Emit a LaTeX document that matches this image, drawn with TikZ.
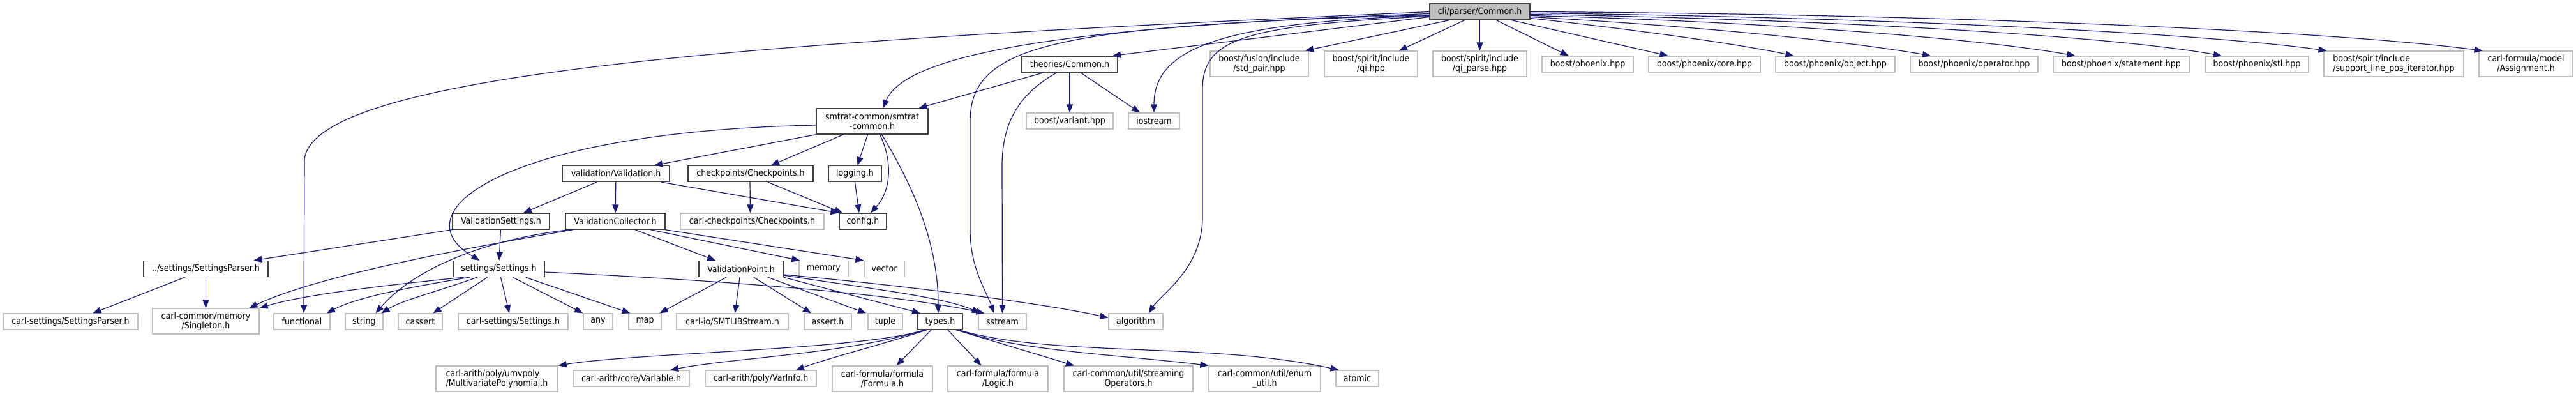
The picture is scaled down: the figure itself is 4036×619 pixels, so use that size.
\documentclass[tikz,border=0pt]{standalone}
\usepackage{fontspec}
\setmainfont{DejaVu Sans}[FakeStretch=0.9]
\usetikzlibrary{arrows.meta}
\definecolor{edgec}{HTML}{191970}
\definecolor{extc}{HTML}{BFBFBF}
\definecolor{rootc}{HTML}{BFBFBF}
\definecolor{docc}{HTML}{404040}
\begin{document}
\begin{tikzpicture}[x=1pt,y=-1pt,
  nd/.style={draw=docc, line width=1.3pt, inner sep=0pt, minimum height=25pt, align=center, font=\fontsize{14}{15}\selectfont, text=black},
  ex/.style={nd, draw=extc},
  rt/.style={nd, fill=rootc},
  two/.style={minimum height=40pt},
  conn/.style={draw=edgec, line width=1.2pt, -{Triangle[length=13pt,width=10pt]}},
]
\fill[white] (0,0) rectangle (4036,619);
\useasboundingbox (0,0) rectangle (4036,619);

% row 0
\node[rt, minimum width=157pt] (root) at (2318.5,18.5) {cli/parser/Common.h};
% row 1
\node[nd, minimum width=150pt] (theories) at (1676,100.5) {theories/Common.h};
\node[ex, two, minimum width=154pt] (stdpair) at (1973,100) {boost/fusion/include\\/std\_pair.hpp};
\node[ex, two, minimum width=146pt] (qi) at (2148,100) {boost/spirit/include\\/qi.hpp};
\node[ex, two, minimum width=147pt] (qiparse) at (2318.5,100) {boost/spirit/include\\/qi\_parse.hpp};
\node[ex, minimum width=143pt] (phx) at (2487.5,100.5) {boost/phoenix.hpp};
\node[ex, minimum width=175pt] (phxcore) at (2670.5,100.5) {boost/phoenix/core.hpp};
\node[ex, minimum width=187pt] (phxobj) at (2875.5,100.5) {boost/phoenix/object.hpp};
\node[ex, minimum width=200pt] (phxop) at (3093,100.5) {boost/phoenix/operator.hpp};
\node[ex, minimum width=213pt] (phxstmt) at (3323.5,100.5) {boost/phoenix/statement.hpp};
\node[ex, minimum width=162pt] (phxstl) at (3536,100.5) {boost/phoenix/stl.hpp};
\node[ex, two, minimum width=219pt, align=left] (linepos) at (3750.5,100) {boost/spirit/include\\/support\_line\_pos\_iterator.hpp};
\node[ex, two, minimum width=147pt] (assign) at (3957.5,100) {carl-formula/model\\/Assignment.h};
% row 2
\node[nd, two, minimum width=175pt] (smtrat) at (1366.5,190) {smtrat-common/smtrat\\-common.h};
\node[ex, minimum width=136pt] (variant) at (1676,189.5) {boost/variant.hpp};
\node[ex, minimum width=80pt] (iostream) at (1808,189.5) {iostream};
% row 3
\node[nd, minimum width=168pt] (validation) at (965,272) {validation/Validation.h};
\node[nd, minimum width=196pt] (checkpoints) at (1176,272) {checkpoints/Checkpoints.h};
\node[nd, minimum width=83pt] (logging) at (1339.5,272) {logging.h};
% row 4
\node[nd, minimum width=152pt] (vsettings) at (785,346.5) {ValidationSettings.h};
\node[nd, minimum width=156pt] (vcollector) at (964,346.5) {ValidationCollector.h};
\node[ex, minimum width=225pt] (carlckpt) at (1178.5,346.5) {carl-checkpoints/Checkpoints.h};
\node[nd, minimum width=74pt] (config) at (1352,346.5) {config.h};
% row 5
\node[nd, minimum width=195pt] (sparser) at (322.5,421) {../settings/SettingsParser.h};
\node[nd, minimum width=143pt] (settings) at (781.5,421) {settings/Settings.h};
\node[nd, minimum width=132pt] (vpoint) at (1161,421) {ValidationPoint.h};
\node[ex, minimum width=77pt] (memory) at (1290.5,421) {memory};
\node[ex, minimum width=63pt] (vector) at (1385.5,421) {vector};
% row 6
\node[ex, minimum width=211pt] (csparser) at (110.5,503.5) {carl-settings/SettingsParser.h};
\node[ex, two, minimum width=167pt] (singleton) at (322.5,503) {carl-common/memory\\/Singleton.h};
\node[ex, minimum width=88pt] (functional) at (473,503.5) {functional};
\node[ex, minimum width=59pt] (string) at (570.5,503.5) {string};
\node[ex, minimum width=69pt] (cassert) at (658.5,503.5) {cassert};
\node[ex, minimum width=172pt] (csettings) at (804,503.5) {carl-settings/Settings.h};
\node[ex, minimum width=46pt] (any) at (937,503.5) {any};
\node[ex, minimum width=51pt] (map) at (1010.5,503.5) {map};
\node[ex, minimum width=175pt] (smtlib) at (1147.5,503.5) {carl-io/SMTLIBStream.h};
\node[ex, minimum width=74pt] (asserth) at (1297,503.5) {assert.h};
\node[ex, minimum width=54pt] (tuple) at (1387,503.5) {tuple};
\node[nd, minimum width=70pt] (types) at (1473,503.5) {types.h};
\node[ex, minimum width=75pt] (sstream) at (1570.5,503.5) {sstream};
\node[ex, minimum width=85pt] (algorithm) at (1779.5,503.5) {algorithm};
% row 7
\node[ex, two, minimum width=191pt, align=left] (mvpoly) at (778.5,593) {carl-arith/poly/umvpoly\\/MultivariatePolynomial.h};
\node[ex, minimum width=182pt] (variable) at (989,592.5) {carl-arith/core/Variable.h};
\node[ex, minimum width=174pt] (varinfo) at (1192,592.5) {carl-arith/poly/VarInfo.h};
\node[ex, two, minimum width=157pt] (formula) at (1382.5,593) {carl-formula/formula\\/Formula.h};
\node[ex, two, minimum width=157pt] (logic) at (1563.5,593) {carl-formula/formula\\/Logic.h};
\node[ex, two, minimum width=202pt] (streaming) at (1768,593) {carl-common/util/streaming\\Operators.h};
\node[ex, two, minimum width=175pt] (enumutil) at (1981.5,593) {carl-common/util/enum\\\_util.h};
\node[ex, minimum width=67pt] (atomic) at (2126.5,592.5) {atomic};

% root, right side
\draw[conn] ([xshift=-48pt]root.south) -- ([xshift=72pt]stdpair.north);
\draw[conn] ([xshift=-24pt]root.south) -- ([xshift=44pt]qi.north);
\draw[conn] (root) -- (qiparse);
\draw[conn] ([xshift=26pt]root.south) -- ([xshift=-30pt]phx.north);
\draw[conn] ([xshift=50pt]root.south) -- ([xshift=-57pt]phxcore.north);
\draw[conn] ([yshift=-10pt]root.east) .. controls (2550,45) and (2720,68) .. ([xshift=-65pt]phxobj.north);
\draw[conn] ([yshift=-8pt]root.east) .. controls (2650,40) and (2900,65) .. ([xshift=-68pt]phxop.north);
\draw[conn] ([yshift=-6pt]root.east) .. controls (2750,33) and (3100,60) .. ([xshift=-72pt]phxstmt.north);
\draw[conn] ([yshift=-4pt]root.east) .. controls (2850,30) and (3300,55) .. ([xshift=-55pt]phxstl.north);
\draw[conn] ([yshift=-2pt]root.east) .. controls (2950,27) and (3450,52) .. ([xshift=-105pt]linepos.north);
\draw[conn] (root.east) .. controls (3050,22) and (3650,48) .. ([xshift=-68pt]assign.north);
% root, left side
\draw[conn] ([yshift=-8pt]root.west) -- ([xshift=67pt]theories.north);
\draw[conn] (root.west) .. controls (1300,60) and (490,105) .. (477,250) -- ([xshift=3pt]functional.north);
\draw[conn] ([yshift=-3pt]root.west) .. controls (1700,40) and (1420,80) .. ([xshift=17pt]smtrat.north);
\draw[conn] ([yshift=-5pt]root.west) .. controls (1650,40) and (1520,70) .. (1520,190) -- (1520,360) .. controls (1520,420) and (1545,455) .. ([xshift=-13pt]sstream.north);
\draw[conn] ([yshift=-6pt]root.west) .. controls (1900,35) and (1808,80) .. (iostream.north);
\draw[conn] ([yshift=-7pt]root.west) .. controls (1950,40) and (1884,60) .. (1884,140) -- (1884,340) .. controls (1884,420) and (1820,460) .. ([xshift=20pt]algorithm.north);
% theories
\draw[conn] ([xshift=-41pt]theories.south) -- ([xshift=73pt]smtrat.north);
\draw[conn] (theories) -- (variant);
\draw[conn] ([xshift=17pt]theories.south) -- ([xshift=-22pt]iostream.north);
\draw[conn] ([xshift=-20pt]theories.south) .. controls (1590,150) and (1570,200) .. (1570,260) -- (sstream.north);
% smtrat
\draw[conn] (smtrat.south west) -- ([xshift=60pt]validation.north);
\draw[conn] ([xshift=-45pt]smtrat.south) -- ([xshift=32pt]checkpoints.north);
\draw[conn] ([xshift=-7pt]smtrat.south) -- ([xshift=4pt]logging.north);
\draw[conn] ([xshift=12pt]smtrat.south) .. controls (1400,255) and (1395,300) .. ([xshift=12pt]config.north);
\draw[conn] ([xshift=15pt]smtrat.south) .. controls (1430,290) and (1470,380) .. ([xshift=-3pt]types.north);
\draw[conn] ([yshift=-6pt]smtrat.west) .. controls (800,205) and (620,330) .. ([xshift=-30pt]settings.north);
% validation
\draw[conn] ([xshift=-30pt]validation.south) -- ([xshift=35pt]vsettings.north);
\draw[conn] (validation) -- (vcollector);
\draw[conn] ([xshift=71pt]validation.south) -- (config.north west);
% checkpoints
\draw[conn] ([xshift=-1pt]checkpoints.south) -- ([xshift=-3pt]carlckpt.north);
\draw[conn] ([xshift=27pt]checkpoints.south) -- ([xshift=-32pt]config.north);
% logging
\draw[conn] (logging.south) -- ([xshift=-6pt]config.north);
% validation settings
\draw[conn] (vsettings) -- (settings);
\draw[conn] (vsettings.south west) -- ([xshift=75pt]sparser.north);
% validation collector
\draw[conn] ([xshift=-66pt]vcollector.south) .. controls (750,385) and (500,430) .. ([xshift=68pt]singleton.north);
\draw[conn] ([xshift=-72pt]vcollector.south) .. controls (760,375) and (650,420) .. ([xshift=18pt]string.north);
\draw[conn] ([xshift=31pt]vcollector.south) -- ([xshift=-40pt]vpoint.north);
\draw[conn] ([xshift=55pt]vcollector.south) -- ([xshift=2pt]memory.north west);
\draw[conn] ([xshift=78pt]vcollector.south) -- (vector.north west);
% settings
\draw[conn] ([xshift=-55pt]settings.south) .. controls (620,445) and (480,460) .. (singleton.north east);
\draw[conn] ([xshift=-46pt]settings.south) .. controls (640,450) and (560,465) .. ([xshift=39pt]functional.north);
\draw[conn] ([xshift=-34pt]settings.south) .. controls (690,455) and (630,470) .. ([xshift=27pt]string.north);
\draw[conn] ([xshift=-18pt]settings.south) -- ([xshift=20pt]cassert.north);
\draw[conn] ([xshift=3pt]settings.south) -- ([xshift=-6pt]csettings.north);
\draw[conn] ([xshift=22pt]settings.south) -- (any.north west);
\draw[conn] ([xshift=42pt]settings.south) -- ([xshift=-23pt]map.north);
\draw[conn] ([yshift=-5pt]settings.east) .. controls (1150,440) and (1400,460) .. ([xshift=-28pt]sstream.north);
% validation point
\draw[conn] ([xshift=-23pt]vpoint.south) -- ([xshift=23pt]map.north);
\draw[conn] ([xshift=-2pt]vpoint.south) -- ([xshift=4pt]smtlib.north);
\draw[conn] ([xshift=20pt]vpoint.south) -- ([xshift=-26pt]asserth.north);
\draw[conn] ([xshift=42pt]vpoint.south) -- ([xshift=-30pt]tuple.north);
\draw[conn] (vpoint.south east) -- ([xshift=-31pt]types.north);
\draw[conn] ([yshift=-10pt]vpoint.east) .. controls (1350,450) and (1480,465) .. ([xshift=-35pt]sstream.north);
\draw[conn] ([yshift=-9pt]vpoint.east) .. controls (1450,450) and (1650,478) .. ([yshift=6pt]algorithm.west);
% settings parser
\draw[conn] ([xshift=-33pt]sparser.south) -- ([xshift=35pt]csparser.north);
\draw[conn] (sparser) -- (singleton);
% types
\draw[conn] ([xshift=-25pt]types.south) .. controls (1350,548) and (1000,552) .. (mvpoly.north east);
\draw[conn] ([xshift=-23pt]types.south) .. controls (1320,555) and (1150,560) .. ([xshift=61pt]variable.north);
\draw[conn] ([xshift=-21pt]types.south) .. controls (1380,540) and (1300,560) .. ([xshift=55pt]varinfo.north);
\draw[conn] ([xshift=-14pt]types.south) -- ([xshift=22pt]formula.north);
\draw[conn] ([xshift=12pt]types.south) -- ([xshift=-26pt]logic.north);
\draw[conn] ([xshift=25pt]types.south) -- ([xshift=-85pt]streaming.north);
\draw[conn] ([xshift=27pt]types.south) .. controls (1600,550) and (1750,555) .. (enumutil.north west);
\draw[conn] ([xshift=29pt]types.south) .. controls (1650,560) and (1900,535) .. ([xshift=-29pt]atomic.north);
\end{tikzpicture}
\end{document}
